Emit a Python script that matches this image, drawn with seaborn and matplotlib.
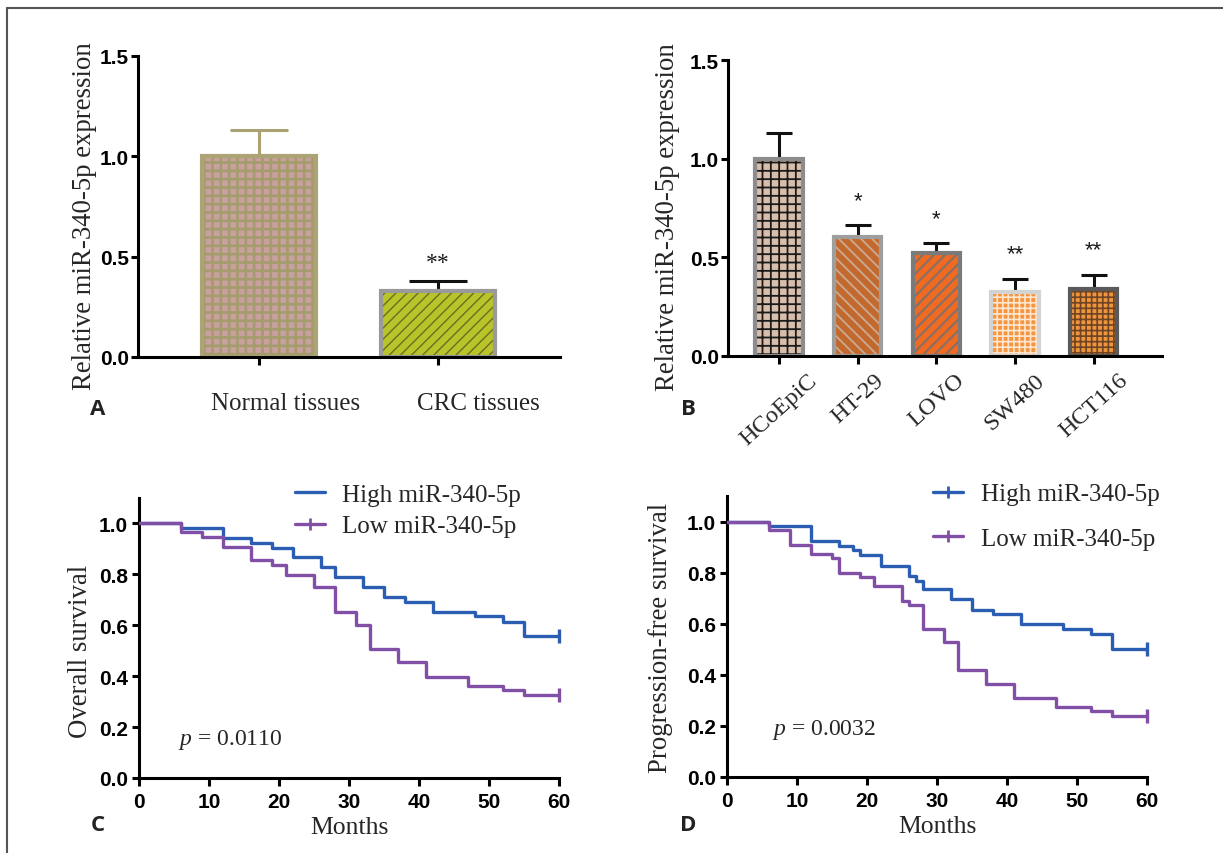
import numpy as np
import pandas as pd
import matplotlib
matplotlib.use("Agg")
import matplotlib.pyplot as plt
import seaborn as sns
from matplotlib.patches import Rectangle
from matplotlib.lines import Line2D
import matplotlib.transforms as mtransforms

# ---------------- data ----------------
a_groups = ["Normal tissues", "CRC tissues"]
a_means = [1.0, 0.33]
a_errs = [0.13, 0.05]
a_sig = ["", "**"]

b_cells = ["HCoEpiC", "HT-29", "LOVO", "SW480", "HCT116"]
b_means = [1.0, 0.60, 0.52, 0.32, 0.34]
b_errs = [0.13, 0.06, 0.05, 0.07, 0.07]
b_sig = ["", "*", "*", "**", "**"]

os_high_t = [0, 6, 12, 16, 19, 22, 26, 28, 32, 35, 38, 42, 48, 52, 55, 60]
os_high_s = [1.0, 0.983, 0.943, 0.924, 0.904, 0.867, 0.828, 0.788, 0.751,
             0.713, 0.691, 0.654, 0.637, 0.614, 0.558, 0.558]
os_low_t = [0, 6, 9, 12, 16, 19, 21, 25, 28, 31, 33, 37, 41, 47, 52, 55, 60]
os_low_s = [1.0, 0.966, 0.947, 0.908, 0.858, 0.836, 0.799, 0.749, 0.654,
            0.601, 0.505, 0.457, 0.397, 0.361, 0.345, 0.325, 0.325]

pfs_high_t = [0, 6, 12, 16, 18, 19, 22, 26, 27, 28, 32, 35, 38, 42, 48, 52, 55, 60]
pfs_high_s = [1.0, 0.983, 0.924, 0.904, 0.889, 0.869, 0.827, 0.788, 0.768,
              0.734, 0.695, 0.655, 0.637, 0.598, 0.578, 0.561, 0.502, 0.502]
pfs_low_t = [0, 6, 9, 12, 15, 16, 19, 21, 25, 26, 28, 31, 33, 37, 41, 47, 52, 55, 60]
pfs_low_s = [1.0, 0.967, 0.908, 0.872, 0.856, 0.799, 0.782, 0.747, 0.689,
             0.675, 0.581, 0.528, 0.417, 0.364, 0.309, 0.273, 0.257, 0.237, 0.237]

legend_labels = ["High miR-340-5p", "Low miR-340-5p"]
p_os = "0.0110"
p_pfs = "0.0032"

# ---------------- style ----------------
sns.set_theme(style="ticks")
SERIF = "Liberation Serif"
SANS = "Liberation Sans"
plt.rcParams["font.family"] = [SANS, "DejaVu Sans"]
plt.rcParams["mathtext.fontset"] = "custom"
plt.rcParams["mathtext.rm"] = SERIF
plt.rcParams["mathtext.it"] = SERIF + ":italic"
plt.rcParams["hatch.linewidth"] = 1.5
LW = 2.2
TICKFS = 15
YLABFS = 19.3

W, H = 1223, 854
fig = plt.figure(figsize=(W / 100, H / 100), dpi=100)


def ax_px(left, right, top, bottom):
    return fig.add_axes([left / W, 1 - bottom / H, (right - left) / W, (bottom - top) / H])


def style_axes(ax, ytick_len=5, ytick_pad=1.5):
    sns.despine(ax=ax)
    for s in ("left", "bottom"):
        ax.spines[s].set_linewidth(LW)
        ax.spines[s].set_color("black")
    ax.tick_params(axis="x", length=6, width=LW, color="black")
    ax.tick_params(axis="y", length=ytick_len, width=LW, color="black", pad=ytick_pad)
    for lab in ax.get_yticklabels():
        lab.set_fontfamily(SANS)
        lab.set_fontweight("bold")
        lab.set_fontsize(TICKFS)
        lab.set_color("black")


def bar_panel(ax, cats, means, errs, sig, face, hcol, hatch, hlw, edge, ecol,
              width, capsize, sig_off, sig_font, sig_size):
    df = pd.DataFrame({"cat": cats, "val": means})
    sns.barplot(data=df, x="cat", y="val", hue="cat",
                palette=dict(zip(cats, face)), legend=False, saturation=1,
                width=width, errorbar=None, ax=ax, zorder=1)
    bars = [b for cont in ax.containers for b in cont]
    for i, b in enumerate(bars):
        b.set_facecolor(face[i])
        b.set_edgecolor(hcol[i])
        b.set_linewidth(0)
        b.set_hatch(hatch[i])
        if hasattr(b, "set_hatch_linewidth"):
            b.set_hatch_linewidth(hlw[i])
        ax.add_patch(Rectangle(b.get_xy(), b.get_width(), b.get_height(),
                               fill=False, edgecolor=edge[i], lw=3.0, zorder=1.2))
        xc = b.get_x() + b.get_width() / 2
        ax.errorbar([xc], [means[i]], yerr=[[0], [errs[i]]], fmt="none",
                    ecolor=ecol[i], elinewidth=LW, capsize=capsize, capthick=LW,
                    zorder=0.5)
        if sig[i]:
            ax.text(xc, means[i] + errs[i] + sig_off, sig[i], ha="center", va="center",
                    family=sig_font, fontsize=sig_size, color="#1a1a1a")
    ax.set_ylim(0, 1.5)
    ax.set_yticks([0, 0.5, 1.0, 1.5])
    ax.set_yticklabels(["0.0", "0.5", "1.0", "1.5"])
    ax.set_xlabel("")
    ax.set_ylabel("Relative miR-340-5p expression", family=SERIF, fontsize=YLABFS)
    style_axes(ax)


# ---------------- Panel A ----------------
axA = ax_px(138, 560, 57, 358)
bar_panel(axA, a_groups, a_means, a_errs, a_sig,
          face=["#c9a09f", "#b8c42a"], hcol=["#a49c6c", "#6b6e22"],
          hatch=["++", "///"], hlw=[1.9, 1.0],
          edge=["#aca475", "#9a9a9c"], ecol=["#aaa273", "#111111"],
          width=0.64, capsize=21, sig_off=0.09, sig_font=SERIF, sig_size=17)
axA.set_xlim(-0.676, 1.682)
axA.tick_params(axis="x", pad=19)
for lab, dx in zip(axA.get_xticklabels(), [0.27, 0.40]):
    lab.set_fontfamily(SERIF)
    lab.set_fontsize(18)
    lab.set_transform(lab.get_transform() + mtransforms.ScaledTranslation(dx, 0, fig.dpi_scale_trans))
axA.yaxis.set_label_coords(-0.097, 0.47)

# ---------------- Panel B ----------------
axB = ax_px(728, 1162, 61, 356.5)
bar_panel(axB, b_cells, b_means, b_errs, b_sig,
          face=["#d9bfab", "#c4692d", "#f06a22", "#f6953d", "#ef953d"],
          hcol=["#1a1a1a", "#c9ab95", "#8a6f62", "#fbe6d2", "#6e4424"],
          hatch=["++", "\\\\\\", "///", "+++", "+++"],
          hlw=[1.3, 1.3, 1.6, 1.2, 1.2],
          edge=["#8c8c8c", "#9e9e9e", "#7a7a7a", "#d3d3d3", "#5a5a5a"],
          ecol=["#111111"] * 5,
          width=0.6, capsize=9.5, sig_off=0.125, sig_font=SANS, sig_size=16)
axB.set_xlim(-0.648, 4.87)
axB.tick_params(axis="x", pad=4)
for lab in axB.get_xticklabels():
    lab.set_fontfamily(SERIF)
    lab.set_fontsize(17.5)
    lab.set_rotation(42)
    lab.set_ha("center")
axB.yaxis.set_label_coords(-0.11, 0.472)

# ---------------- KM panels ----------------
BLUE = "#2b5db2"
PURPLE = "#8150a6"


def km_panel(ax, th, sh, tl, sl, ylabel, pval, ptxt_xy, leg_xy, high_marker):
    for t, s, c in ((th, sh, BLUE), (tl, sl, PURPLE)):
        sns.lineplot(x=t, y=s, drawstyle="steps-post", color=c, lw=2.4,
                     ax=ax, estimator=None, sort=False, zorder=3)
        ax.plot(t[-1:], s[-1:], linestyle="none", color=c, marker="|",
                markersize=10, markeredgewidth=2.4, zorder=4, clip_on=False)
    ax.set_xlim(0, 60)
    ax.set_ylim(0, 1.1)
    ax.set_xticks(range(0, 61, 10))
    ax.set_yticks([0, 0.2, 0.4, 0.6, 0.8, 1.0])
    ax.set_yticklabels(["0.0", "0.2", "0.4", "0.6", "0.8", "1.0"])
    style_axes(ax, ytick_len=5, ytick_pad=3)
    ax.tick_params(axis="x", pad=4)
    for lab in ax.get_xticklabels():
        lab.set_fontfamily(SANS)
        lab.set_fontweight("bold")
        lab.set_fontsize(TICKFS)
        lab.set_color("black")
    ax.set_xlabel("Months", family=SERIF, fontsize=18.5, labelpad=4)
    ax.set_ylabel(ylabel, family=SERIF, fontsize=YLABFS)
    ax.text(ptxt_xy[0], ptxt_xy[1], r"$p$ = " + pval, family=SERIF, fontsize=17,
            ha="left", va="center")
    handles = [
        Line2D([], [], color=BLUE, lw=2.4, marker="|" if high_marker else None,
               markersize=8, markeredgewidth=2),
        Line2D([], [], color=PURPLE, lw=2.4, marker="|", markersize=8, markeredgewidth=2),
    ]
    fig.legend(handles, legend_labels, loc="center left",
               bbox_to_anchor=(leg_xy[0] / W, 1 - leg_xy[1] / H),
               frameon=False, prop={"family": SERIF, "size": 18},
               handlelength=1.2, handletextpad=0.7,
               labelspacing=leg_xy[2], borderpad=0, borderaxespad=0)


axC = ax_px(139, 559, 499, 779)
km_panel(axC, os_high_t, os_high_s, os_low_t, os_low_s, "Overall survival",
         p_os, (5.6, 0.155), (295, 511.5, 0.36), False)
axC.yaxis.set_label_coords(-0.11, 0.454)

axD = ax_px(727, 1147, 497, 778)
km_panel(axD, pfs_high_t, pfs_high_s, pfs_low_t, pfs_low_s, "Progression-free survival",
         p_pfs, (6.4, 0.1875), (933, 517.5, 0.88), True)
axD.yaxis.set_label_coords(-0.128, 0.50)

# ---------------- panel letters & frame ----------------
for letter, (x, y) in zip("ABCD", [(98, 410), (688, 410), (98, 826), (688, 826)]):
    fig.text(x / W, 1 - y / H, letter, family=["Open Sans", SANS], fontweight="bold",
             fontsize=16, ha="center", va="center", color="#222222")

fig.add_artist(Line2D([7 / W, 7 / W], [0, 1 - 9 / H], transform=fig.transFigure,
                      color="#555555", lw=1.5))
fig.add_artist(Line2D([7 / W, 1], [1 - 9 / H, 1 - 9 / H], transform=fig.transFigure,
                      color="#555555", lw=1.5))

fig.savefig("out.png", dpi=100)
